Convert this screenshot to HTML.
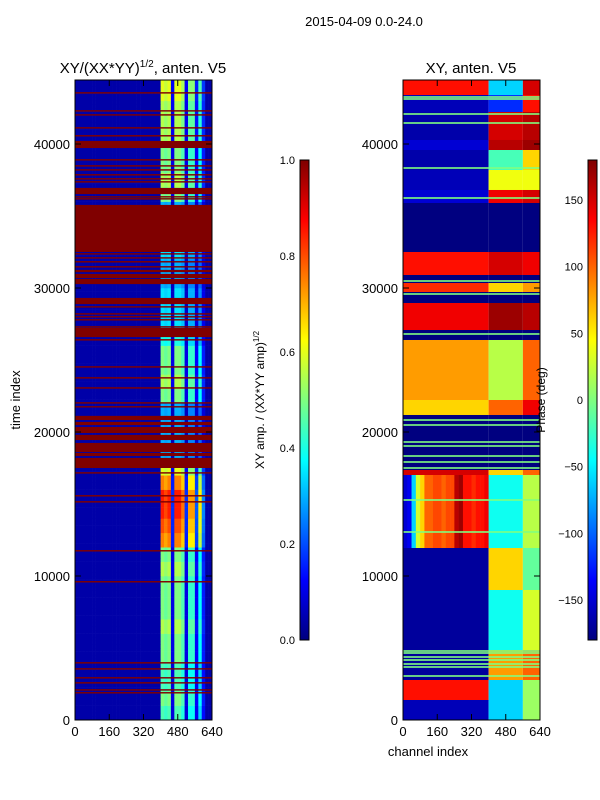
<!DOCTYPE html>
<html><head><meta charset="utf-8"><style>
body{margin:0;background:#fff;}
svg{display:block;font-family:"Liberation Sans",sans-serif;}
</style></head><body>
<svg id="fig" width="600" height="800" viewBox="0 0 600 800">
<defs>
<linearGradient id="jetGrad" x1="0" y1="1" x2="0" y2="0">
<stop offset="0" stop-color="#00007f"/><stop offset="0.125" stop-color="#0000ff"/><stop offset="0.375" stop-color="#00ffff"/><stop offset="0.5" stop-color="#7fff7f"/><stop offset="0.625" stop-color="#ffff00"/><stop offset="0.875" stop-color="#ff0000"/><stop offset="1" stop-color="#7f0000"/>
</linearGradient>
</defs>
<text x="364" y="26" font-size="13" text-anchor="middle">2015-04-09 0.0-24.0</text>
<g id="leftMap"></g>
<g id="rightMap"></g>
<g id="axes"></g>
<text x="143" y="73" font-size="15" text-anchor="middle">XY/(XX*YY)<tspan font-size="10" dy="-6">1/2</tspan><tspan dy="6">, anten. V5</tspan></text>
<text x="471" y="73" font-size="15" text-anchor="middle">XY, anten. V5</text>
<text transform="translate(20,400) rotate(-90)" font-size="13" text-anchor="middle">time index</text>
<text x="428" y="756" font-size="13" text-anchor="middle">channel index</text>
<rect x="300" y="160" width="9" height="480" fill="url(#jetGrad)" stroke="#000" stroke-width="1"/>
<rect x="588" y="160" width="9" height="480" fill="url(#jetGrad)" stroke="#000" stroke-width="1"/>
<text transform="translate(264,400) rotate(-90)" font-size="12" text-anchor="middle">XY amp. / (XX*YY amp)<tspan font-size="8" dy="-5">1/2</tspan></text>
<text transform="translate(545,400) rotate(-90)" font-size="12" text-anchor="middle">Phase (deg)</text>
</svg>
<script>
// ---------- data ----------
const channelTicks=[0,160,320,480,640];
const timeTicks=[0,10000,20000,30000,40000];
const ampTicks=[0.0,0.2,0.4,0.6,0.8,1.0];
const phaseTicks=[-150,-100,-50,0,50,100,150];
// left: amplitude per 1000-time block for bright channels (t=0 upward)
const ampRowIntensity=[0.45,0.5,0.45,0.45,0.5,0.5,0.55,0.5,0.5,0.5,0.55,0.5,0.75,0.8,0.85,0.85,0.75,0.6,0.3,0.3,0.3,0.3,0.5,0.55,0.5,0.5,0.4,0.35,0.35,0.35,0.3,0.3,0.35,0.3,0.3,0.3,0.5,0.55,0.5,0.5,0.55,0.55,0.55,0.6,0.6];
// gain per 16-channel column
const ampColGain=[0,0,0,0,0,0,0,0,0,0,0,0,0,0,0,0,0,0,0,0,0,0,0,0,0,1.0,0.95,1.0,0.2,1.0,1.0,0.9,0.2,0.85,0.85,0.25,0.75,0.3,0,0];
const ampLowValue=0.04;
// flagged (red) bands, time index ranges
const redBandStart=[43500,42250,41970,41070,40520,39720,38850,38430,38150,37810,37530,37320,36520,36280,36140,32500,32320,32040,31770,31420,31100,30690,30270,28880,28640,28150,27950,27740,27250,26590,26350,24470,23710,23010,21970,21700,20830,20480,19930,19440,18610,18330,17500,17110,15520,15100,11700,9550,3920,3500,2880,2530,2040,1840];
const redBandEnd=[43600,42350,42070,41170,40620,40210,38950,38530,38250,37910,37630,37420,36950,36380,36240,35770,32420,32140,31870,31520,31260,30980,30630,29310,28740,28250,28050,27840,27350,27230,26450,24570,23810,23110,22070,21800,21120,20700,20350,19800,19240,18550,18200,17210,15620,15200,11800,9650,4020,3600,2980,2630,2140,1940];
// right: band boundaries (time, descending) and values for low (0-400), mid (400-560), edge (560-640)
const phaseBoundaries=[44500,43400,42222,40278,39583,38194,36806,35903,32500,30903,30347,29722,28958,27083,26389,22222,21181,17361,17014,11944,9028,4861,2778,1389,0];
const phaseLow=[130,-160,-165,-150,-165,-160,-150,-180,130,-180,120,-180,140,-180,80,60,-180,150,0,-170,-170,-170,130,-160];
const phaseMid=[-60,-120,150,160,-20,40,140,-180,150,-180,60,-180,170,-180,20,100,-180,60,-40,60,-40,80,-60,-60];
const phaseEdge=[150,130,160,170,60,40,150,-180,140,-180,80,-180,160,-180,100,140,-180,100,20,-10,30,100,10,10];
// special low-channel profile for band 18 (time 11944-17014), per 20-channel column
const phaseProfileBand=18;
const phaseProfile=[-150,-140,-60,30,60,100,100,110,110,100,110,110,160,170,130,130,120,130,130,140];
// zero-phase (flagged) lines
const greenLines=[43264,43125,42083,41458,38333,36250,30486,29583,26806,20833,20486,19306,19028,18333,17917,17500,15278,13056,4792,4653,4375,4167,3889,3681,3056];

// ---------- helpers ----------
const NS="http://www.w3.org/2000/svg";
function jet(v){v=Math.max(0,Math.min(1,v));const c=x=>Math.round(255*Math.max(0,Math.min(1,1.5-Math.abs(4*v-x))));return `rgb(${c(3)},${c(2)},${c(1)})`;}
const TMAX=44444, Y0=720, Y1=80;
const yOf=t=>Math.max(Y1,Y0-(t/TMAX)*(Y0-Y1));
function xOfL(c){return 75+c/640*137;}
function xOfR(c){return 403+c/640*137;}
function rect(g,x,y,w,h,fill){const r=document.createElementNS(NS,'rect');r.setAttribute('x',x);r.setAttribute('y',y);r.setAttribute('width',w);r.setAttribute('height',h);r.setAttribute('fill',fill);g.appendChild(r);return r;}

// ---------- left heatmap ----------
const L=document.getElementById('leftMap');
const step=250;
for(let t=0;t<44500;t+=step){
  const blk=Math.min(ampRowIntensity.length-1,Math.floor(t/1000));
  const y=yOf(Math.min(t+step,44500)), h=yOf(t)-y+0.3;
  for(let c=0;c<ampColGain.length;c++){
    const g=ampColGain[c];
    const v=g<=0.05?ampLowValue:Math.max(ampLowValue,ampRowIntensity[blk]*g);
    const r=rect(L,xOfL(c*16),y,xOfL((c+1)*16)-xOfL(c*16)+0.3,h,jet(v));
    
    
  }
}
for(let i=0;i<redBandStart.length;i++){
  const y=yOf(redBandEnd[i]);
  const r=rect(L,75,y,137,Math.max(1,yOf(redBandStart[i])-y),jet(1));
  
  
}
// ---------- right heatmap ----------
const R=document.getElementById('rightMap');
const ph=v=>jet((v+180)/360);
for(let i=0;i<phaseLow.length;i++){
  const y=yOf(phaseBoundaries[i]), h=yOf(phaseBoundaries[i+1])-y+0.3;
  if(i===phaseProfileBand){
    for(let c=0;c<phaseProfile.length;c++){
      const r=rect(R,xOfR(c*20),y,xOfR(20)-xOfR(0)+0.3,h,ph(phaseProfile[c]));
      
      
    }
  } else {
    const r=rect(R,xOfR(0),y,xOfR(400)-xOfR(0),h,ph(phaseLow[i]));
    
    
  }
  const m=rect(R,xOfR(400),y,xOfR(560)-xOfR(400),h,ph(phaseMid[i]));
  
  
  const e=rect(R,xOfR(560),y,xOfR(640)-xOfR(560),h,ph(phaseEdge[i]));
  
  
}
for(const t of greenLines){
  const r=rect(R,403,yOf(t)-0.8,137,1.6,ph(0));
  
  
}
// ---------- axes ----------
const A=document.getElementById('axes');
function line(x1,y1,x2,y2){const l=document.createElementNS(NS,'line');l.setAttribute('x1',x1);l.setAttribute('y1',y1);l.setAttribute('x2',x2);l.setAttribute('y2',y2);l.setAttribute('stroke','#000');l.setAttribute('stroke-width','1');A.appendChild(l);return l;}
function text(x,y,s,anchor,size){const t=document.createElementNS(NS,'text');t.setAttribute('x',x);t.setAttribute('y',y);t.setAttribute('font-size',size);t.setAttribute('text-anchor',anchor);t.textContent=s;A.appendChild(t);return t;}
[[75,xOfL],[403,xOfR]].forEach(([x0,xf],pi)=>{
  const f=document.createElementNS(NS,'rect');
  f.setAttribute('x',x0);f.setAttribute('y',80);f.setAttribute('width',137);f.setAttribute('height',640);
  f.setAttribute('fill','none');f.setAttribute('stroke','#000');
  
  
  A.appendChild(f);
  for(const c of channelTicks){
    const x=xf(c);line(x,720,x,714);line(x,80,x,86);
    const t=text(x,736,String(c),'middle',13);
    
    
  }
  for(const v of timeTicks){
    const y=yOf(v);line(x0,y,x0+6,y);line(x0+137,y,x0+131,y);
    const t=text(x0-5,y+5,String(v),'end',13);
    
    
  }
});
for(const v of ampTicks){
  const y=640-v*480;line(300,y,303,y);line(309,y,306,y);
  const t=text(295,y+4,v.toFixed(1),'end',11);
  
  
}
for(const v of phaseTicks){
  const y=640-(v+180)/360*480;line(588,y,591,y);line(597,y,594,y);
  const t=text(583,y+4,String(v).replace('-','\u2212'),'end',11);
  
  
}
</script>
</body></html>
